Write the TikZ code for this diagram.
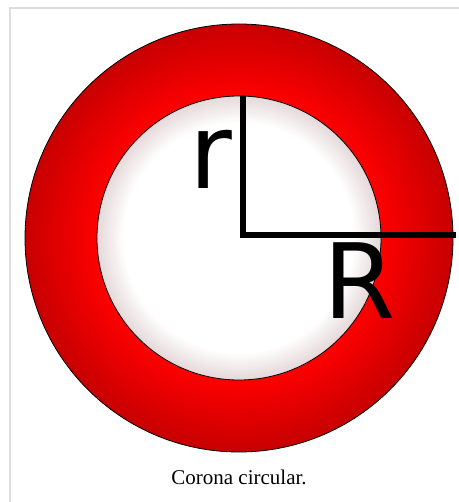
\documentclass[tikz,border=0pt]{standalone}
\usepackage{fontspec}
\setmainfont{Liberation Serif}
\newfontfamily\labelfont{DejaVu Sans}
\usetikzlibrary{positioning}
\definecolor{ringBright}{HTML}{FF0000}
\definecolor{ringDark}{HTML}{C80000}
\definecolor{holeEdge}{HTML}{E6D9DA}
\definecolor{frameGray}{HTML}{DDDDDD}
\tikzset{
  radiusline/.style={line width=4.5pt,line join=miter,black},
  radiuslabel/.style={font=\labelfont\fontsize{78}{78}\selectfont,inner sep=0pt,anchor=base},
  rim/.style={draw=black,line width=0.6pt}
}

\begin{document}
\begin{tikzpicture}[x=0.75pt,y=-0.75pt]
  \useasboundingbox (0,0) rectangle (459,502);
  % thumbnail frame
  \draw[frameGray,line width=1.5pt] (9.5,502) -- (9.5,8) -- (459,8);
  % annulus, shaded by hand with concentric discs
  \coordinate (centre) at (239,238);
  \foreach \i in {0,...,36}{
    \pgfmathsetmacro\rad{214-2*\i}
    \pgfmathtruncatemacro\mix{100*\i/36}
    \fill[ringBright!\mix!ringDark] (centre) circle[radius=\rad];
  }
  \foreach \i in {0,...,13}{
    \pgfmathsetmacro\rad{142-2*\i}
    \pgfmathtruncatemacro\mix{100*\i/13}
    \fill[white!\mix!holeEdge] (centre) circle[radius=\rad];
  }
  \draw[rim] (centre) circle[radius=214];
  \draw[rim] (centre) circle[radius=142];
  % radii
  \coordinate (rtop) at (243,96);
  \coordinate (corner) at (243,234.5);
  \coordinate (Rend) at (456,234.5);
  \draw[radiusline] (rtop) -- (corner) -- (Rend);
  \node[radiuslabel] (rlabel) at (211,188) {r};
  \node[radiuslabel] (Rlabel) at (360,318) {R};
  % caption
  \node[font=\fontsize{15.75}{18}\selectfont,inner sep=0pt,anchor=base] (caption) at (239,484) {Corona circular.};
\end{tikzpicture}
\end{document}
